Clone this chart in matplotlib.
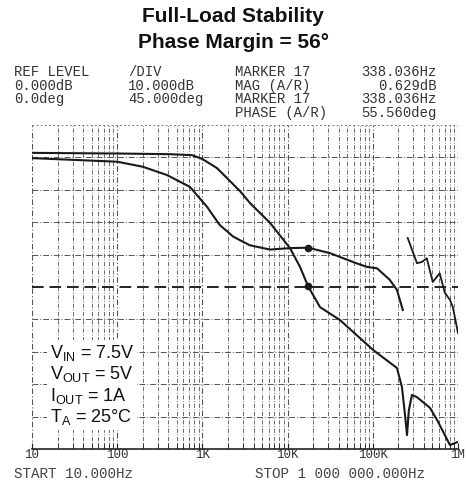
import matplotlib
matplotlib.use("Agg")
import matplotlib.pyplot as plt
import numpy as np
from matplotlib.ticker import LogLocator, NullFormatter

plt.rcParams['font.family'] = ['Liberation Sans', 'DejaVu Sans']

# ---- data ----
mag_freq = [10, 100, 400, 755, 1000, 1483, 2763, 3622, 6215, 10670, 13990, 17350,
            24000, 41200, 100500, 192000, 220000, 240000, 252000, 265000, 288000,
            330000, 469000, 567000, 806000, 1000000]
mag_db = [41.4, 41.2, 41.0, 40.7, 39.5, 36.7, 29.6, 25.9, 19.8, 12.0, 6.2, 0.3,
          -6.2, -10.2, -19.4, -25.0, -30.9, -40.0, -45.7, -38.0, -33.3,
          -34.0, -37.3, -41.0, -48.8, -47.8]

phase_freq = [10, 100, 200, 384, 714, 1130, 1600, 2300, 2760, 3600, 6200, 10700,
              17350, 31500, 64000, 85000, 112000, 158000, 192000, 225000]
phase_deg = [179, 174, 167, 155.5, 139, 111.5, 86, 70, 65, 58, 52, 54,
             54.6, 47, 33, 28, 26, 10, -4, -32]

phase2_freq = [257000, 330000, 380000, 430000, 505000, 610000, 700000, 806000, 870000, 1000000]
phase2_deg = [68, 33, 35, 40, 7, 19, -8, -18, -28, -64]

marker_freq = 17350
marker_mag = 0.3
marker_phase = 54.6

freq_labels = ['10', '100', '1K', '10K', '100K', '1M']
freq_label_pos = [10, 100, 1e3, 1e4, 1e5, 1e6]

header_rows = [
    ("REF LEVEL", "/DIV", "MARKER 17", "338.036Hz"),
    ("0.000dB", "10.000dB", "MAG (A/R)", "0.629dB"),
    ("0.0deg", "45.000deg", "MARKER 17", "338.036Hz"),
    ("", "", "PHASE (A/R)", "55.560deg"),
]
cond_lines = [r'V$_\mathregular{IN}$ = 7.5V', r'V$_\mathregular{OUT}$ = 5V',
              r'I$_\mathregular{OUT}$ = 1A', r'T$_\mathregular{A}$ = 25°C']

W, H = 466, 483
fig = plt.figure(figsize=(W / 100, H / 100), dpi=100)
ax = fig.add_axes([32 / W, 1 - 449 / H, (458 - 32) / W, (449 - 125) / H])
ax2 = ax.twinx()

ax.set_xscale('log')
ax.set_xlim(10, 1e6)
ax.set_ylim(-50, 50)
ax2.set_ylim(-225, 225)

gcol = '#555555'
# grid lines
for dec in range(1, 6):
    for m in range(1, 10):
        f = m * 10 ** dec
        if f > 1e6:
            break
        ax.axvline(f, color=gcol, lw=0.8 if m == 1 else 0.6,
                   ls=(0, (5, 2, 1, 2)), zorder=1)
for yv in range(-40, 50, 10):
    if yv == 0:
        ax.axhline(0, color='#222222', lw=1.4, ls=(0, (6, 3)), zorder=1)
    else:
        ax.axhline(yv, color=gcol, lw=0.7, ls=(0, (6, 2, 1, 2)), zorder=1)
ax.axhline(50, color=gcol, lw=0.6, ls=(0, (2, 3)), zorder=1)
ax.axvline(1e6, color=gcol, lw=0.8, ls=(0, (4, 2)), zorder=1)

for s in ['top', 'left', 'right']:
    ax.spines[s].set_visible(False)
    ax2.spines[s].set_visible(False)
ax2.spines['bottom'].set_visible(False)
ax.spines['bottom'].set_color('#222222')
ax.spines['bottom'].set_linewidth(1.2)

ax.xaxis.set_major_locator(LogLocator(base=10, numticks=10))
ax.xaxis.set_minor_locator(LogLocator(base=10, subs=np.arange(2, 10), numticks=50))
ax.xaxis.set_major_formatter(NullFormatter())
ax.xaxis.set_minor_formatter(NullFormatter())
ax.tick_params(axis='x', which='both', direction='in', length=4, color='#222222')
ax.tick_params(axis='y', left=False, labelleft=False)
ax2.tick_params(axis='y', right=False, labelright=False)

# curves
ax.plot(mag_freq, mag_db, color='#1a1a1a', lw=1.5, zorder=3)
ax2.plot(phase_freq, phase_deg, color='#1a1a1a', lw=1.5, zorder=3)
ax2.plot(phase2_freq, phase2_deg, color='#1a1a1a', lw=1.3, zorder=3)
ax.plot([marker_freq], [marker_mag], 'o', color='#1a1a1a', ms=4.5, zorder=4)
ax2.plot([marker_freq], [marker_phase], 'o', color='#1a1a1a', ms=4.5, zorder=4)

# frequency labels
mono = 'Liberation Mono'
for lab, f in zip(freq_labels, freq_label_pos):
    ax.annotate(lab, (f, -50), xytext=(0, -4.5), textcoords='offset points',
                ha='center', va='center', fontsize=9, family=mono, color='#333333')
fig.text(14 / W, 1 - 474 / H, "START 10.000Hz", ha='left', va='center',
         fontsize=10.3, family=mono, color='#444444')
fig.text(255 / W, 1 - 474 / H, "STOP 1 000 000.000Hz", ha='left', va='center',
         fontsize=10.3, family=mono, color='#444444')

# header
row_y = [72, 86, 99, 113]
for (a, b, c, d), y in zip(header_rows, row_y):
    yy = 1 - y / H
    fig.text(14 / W, yy, a, ha='left', va='center', fontsize=10, family=mono, color='#333333')
    fig.text(128 / W, yy, b, ha='left', va='center', fontsize=10, family=mono, color='#333333')
    fig.text(235 / W, yy, c, ha='left', va='center', fontsize=10, family=mono, color='#333333')
    fig.text(437 / W, yy, d, ha='right', va='center', fontsize=10, family=mono, color='#333333')

# title
fig.text(0.5, 1 - 17 / H, "Full-Load Stability", ha='center', va='center',
         fontsize=15, fontweight='bold', color='#111111')
fig.text(0.5, 1 - 43 / H, "Phase Margin = 56°", ha='center', va='center',
         fontsize=15, fontweight='bold', color='#111111')

# conditions
fig.text(50 / W, 1 - 385 / H, "\n".join(cond_lines), ha='left', va='center',
         fontsize=13, color='#111111', linespacing=1.1,
         bbox=dict(facecolor='white', edgecolor='none', pad=2), zorder=5)

fig.savefig('out.png', dpi=100, facecolor='white')
